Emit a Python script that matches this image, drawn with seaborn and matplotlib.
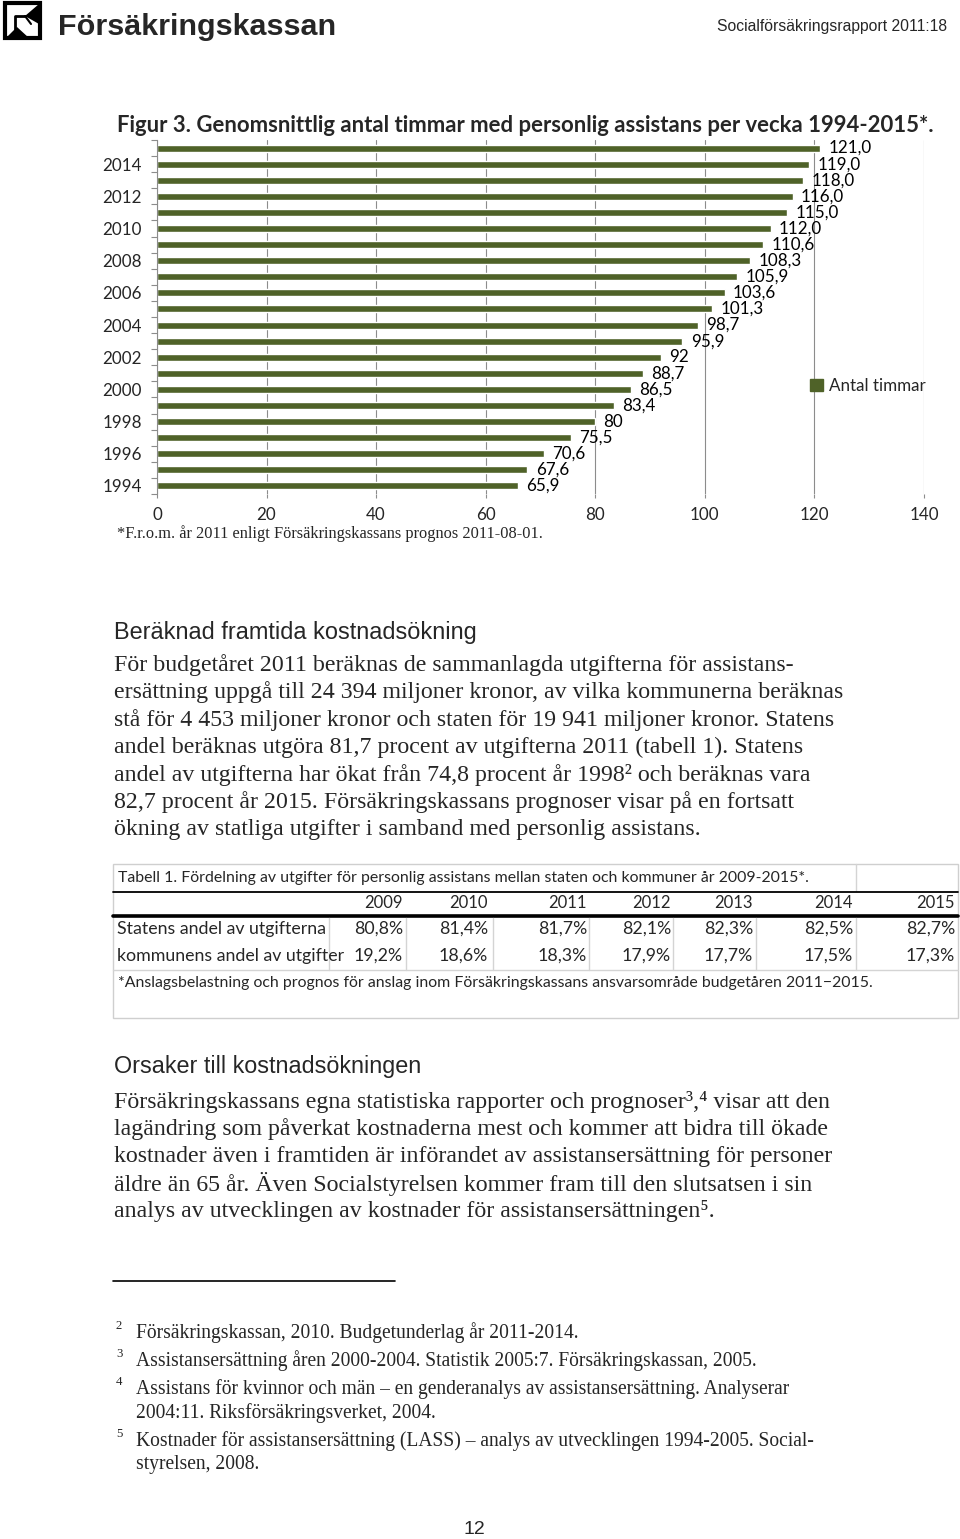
import matplotlib
matplotlib.use("Agg")
import matplotlib.pyplot as plt
import matplotlib.patches as mpatches
from matplotlib.lines import Line2D
import numpy as np
import pandas as pd
import seaborn as sns

# chart data
years = list(range(1994, 2016))
hours = [65.9, 67.6, 70.6, 75.5, 80, 83.4, 86.5, 88.7, 92, 95.9, 98.7,
         101.3, 103.6, 105.9, 108.3, 110.6, 112.0, 115.0, 116.0, 118.0, 119.0, 121.0]
hour_labels = ["65,9", "67,6", "70,6", "75,5", "80", "83,4", "86,5", "88,7", "92", "95,9", "98,7",
               "101,3", "103,6", "105,9", "108,3", "110,6", "112,0", "115,0", "116,0", "118,0", "119,0", "121,0"]
x_ticks = [0, 20, 40, 60, 80, 100, 120, 140]
series_name = "Antal timmar"

# table data
table_years = ["2009", "2010", "2011", "2012", "2013", "2014", "2015"]
statens_andel = ["80,8%", "81,4%", "81,7%", "82,1%", "82,3%", "82,5%", "82,7%"]
kommunens_andel = ["19,2%", "18,6%", "18,3%", "17,9%", "17,7%", "17,5%", "17,3%"]
row_names = ["Statens andel av utgifterna", "kommunens andel av utgifter"]

# page text
para1 = ["För budgetåret 2011 beräknas de sammanlagda utgifterna för assistans-",
         "ersättning uppgå till 24 394 miljoner kronor, av vilka kommunerna beräknas",
         "stå för 4 453 miljoner kronor och staten för 19 941 miljoner kronor. Statens",
         "andel beräknas utgöra 81,7 procent av utgifterna 2011 (tabell 1). Statens",
         "andel av utgifterna har ökat från 74,8 procent år 1998\u00b2 och beräknas vara",
         "82,7 procent år 2015. Försäkringskassans prognoser visar på en fortsatt",
         "ökning av statliga utgifter i samband med personlig assistans."]
para2 = ["Försäkringskassans egna statistiska rapporter och prognoser\u00b3,\u2074 visar att den",
         "lagändring som påverkat kostnaderna mest och kommer att bidra till ökade",
         "kostnader även i framtiden är införandet av assistansersättning för personer",
         "äldre än 65 år. Även Socialstyrelsen kommer fram till den slutsatsen i sin",
         "analys av utvecklingen av kostnader för assistansersättningen\u2075."]
footnotes = [("2", ["Försäkringskassan, 2010. Budgetunderlag år 2011-2014."]),
             ("3", ["Assistansersättning åren 2000-2004. Statistik 2005:7. Försäkringskassan, 2005."]),
             ("4", ["Assistans för kvinnor och män \u2013 en genderanalys av assistansersättning. Analyserar",
                    "2004:11. Riksförsäkringsverket, 2004."]),
             ("5", ["Kostnader för assistansersättning (LASS) \u2013 analys av utvecklingen 1994-2005. Social-",
                    "styrelsen, 2008."])]

W, H = 960, 1539
green = "#4f6228"
grid_gray = "#8c8c8c"
sans = ["Liberation Sans", "DejaVu Sans"]
serif = ["Liberation Serif", "DejaVu Serif"]
calib = ["Lato", "DejaVu Sans"]

sns.set_theme(style="white")
plt.rcParams["font.family"] = calib

fig = plt.figure(figsize=(W / 100, H / 100), dpi=100)
renderer = fig.canvas.get_renderer()


def fx(x):
    return x / W


def fy(y):
    return 1 - y / H


def fit(s, width, family, weight="normal"):
    t = fig.text(0, 0, s, fontsize=20, family=family, weight=weight)
    w = t.get_window_extent(renderer).width
    t.remove()
    return 20 * width / w


def put(x, y, s, size, family, weight="normal", ha="left", **kw):
    fig.text(fx(x), fy(y), s, fontsize=size, family=family, weight=weight,
             ha=ha, va="center", **kw)


def hline(x0, x1, y, color="black", lw=1.0):
    fig.add_artist(Line2D([fx(x0), fx(x1)], [fy(y), fy(y)], color=color, lw=lw,
                          transform=fig.transFigure))


def vline(x, y0, y1, color="black", lw=1.0):
    fig.add_artist(Line2D([fx(x), fx(x)], [fy(y0), fy(y1)], color=color, lw=lw,
                          transform=fig.transFigure))


# ---- header ----
fig.add_artist(mpatches.Rectangle((fx(5), fy(38)), fx(35), 35 / H, transform=fig.transFigure,
                                  facecolor="white", edgecolor="black", lw=3))
for poly in ([(25, 16), (39, 4), (39, 24)],
             [(6, 38), (17, 27), (29, 38)]):
    fig.add_artist(mpatches.Polygon([(fx(a), fy(b)) for a, b in poly], closed=True,
                                    transform=fig.transFigure, facecolor="black", lw=0))
fig.add_artist(Line2D([fx(15), fx(15), fx(25)], [fy(29), fy(16), fy(16)], color="black",
                      lw=2, transform=fig.transFigure))
fig.add_artist(Line2D([fx(25), fx(31)], [fy(16), fy(24)], color="black",
                      lw=1.5, transform=fig.transFigure))
put(58, 27, "Försäkringskassan", fit("Försäkringskassan", 277, sans, "bold"), sans, "bold")
put(717, 27, "Socialförsäkringsrapport 2011:18",
    fit("Socialförsäkringsrapport 2011:18", 229, sans), sans)

title = "Figur 3. Genomsnittlig antal timmar med personlig assistans per vecka 1994-2015*."
put(117, 125, title, fit(title, 816, calib, "bold"), calib, "bold")

# ---- chart ----
chart_fs = fit(series_name, 97, calib)
ax = fig.add_axes([fx(157), fy(494), (924 - 157) / W, 354 / H])
df = pd.DataFrame({"year": [str(y) for y in years], "hours": hours})
order = [str(y) for y in years[::-1]]
sns.barplot(data=df, x="hours", y="year", order=order, color=green, saturation=1,
            width=0.43, orient="h", ax=ax)
lab_map = dict(zip([str(y) for y in years], hour_labels))
ax.bar_label(ax.containers[0], labels=[lab_map[y] for y in order], padding=6,
             fontsize=chart_fs, color="black")
ax.set_xlim(0, 140)
ax.set_xticks(x_ticks)
ax.set_xticklabels([str(v) for v in x_ticks], fontsize=chart_fs)
ax.set_yticks(range(len(order)))
ax.set_yticklabels([y if int(y) % 2 == 0 else "" for y in order], fontsize=chart_fs)
ax.set_yticks(np.arange(-0.5, len(order), 1), minor=True)
ax.tick_params(axis="y", which="major", length=0, pad=11)
ax.tick_params(axis="y", which="minor", length=4, color=grid_gray, width=0.8, left=True)
ax.tick_params(axis="x", length=3, color=grid_gray, width=0.8, bottom=True, pad=6)
ax.grid(axis="x", color=grid_gray, lw=0.8)
ax.set_axisbelow(True)
ax.set_xlabel("")
ax.set_ylabel("")
for side in ["top", "right", "bottom"]:
    ax.spines[side].set_visible(False)
ax.spines["left"].set_color(grid_gray)
ax.spines["left"].set_linewidth(0.8)
ax.legend(handles=[mpatches.Patch(color=green, label=series_name)], frameon=False,
          loc="center left", bbox_to_anchor=((810 - 157) / 767, (494 - 386) / 354),
          borderaxespad=0, borderpad=0,
          fontsize=chart_fs, handlelength=0.75, handleheight=0.75, handletextpad=0.35)

note = "*F.r.o.m. år 2011 enligt Försäkringskassans prognos 2011-08-01."
put(117, 534, note, fit(note, 423, serif), serif)

# ---- body text 1 ----
put(114, 632, "Beräknad framtida kostnadsökning",
    fit("Beräknad framtida kostnadsökning", 361, sans), sans)
body_fs = fit(para1[0], 680, serif)
for i, line in enumerate(para1):
    put(114, 665 + i * 27.4, line, body_fs, serif)

# ---- table ----
fig.add_artist(mpatches.Rectangle((fx(113), fy(1018)), fx(958) - fx(113), 154 / H,
                                  transform=fig.transFigure, facecolor="white",
                                  edgecolor="#cfcfcf", lw=1))
tab_title = "Tabell 1. Fördelning av utgifter för personlig assistans mellan staten och kommuner år 2009-2015*."
tab_fs = fit(tab_title, 690, calib)
put(118, 878, tab_title, tab_fs, calib)
vline(856, 864, 891, color="#d4d4d4")
hline(113, 958, 892, lw=1.3)
col_right = [403, 488, 587, 671, 753, 853, 955]
col_div = [329, 406, 493, 589, 673, 756, 856]
for xr, yr in zip(col_right, table_years):
    put(xr, 903, yr, tab_fs * 1.05, calib, ha="right")
hline(113, 958, 916, lw=2.6)
for row_y, name, vals in zip([929, 956], row_names, [statens_andel, kommunens_andel]):
    put(117, row_y, name, tab_fs * 1.12, calib)
    for xr, v in zip(col_right, vals):
        put(xr, row_y, v, tab_fs * 1.12, calib, ha="right")
for xd in col_div:
    vline(xd, 918, 970, color="#d4d4d4")
hline(113, 958, 970, color="#d4d4d4")
tab_note = "*Anslagsbelastning och prognos för anslag inom Försäkringskassans ansvarsområde budgetåren 2011\u22122015."
put(118, 983, tab_note, fit(tab_note, 755, calib), calib)

# ---- body text 2 ----
put(114, 1066, "Orsaker till kostnadsökningen",
    fit("Orsaker till kostnadsökningen", 307, sans), sans)
for i, line in enumerate(para2):
    put(114, 1102 + i * 27.2, line, body_fs, serif)

# ---- footnotes ----
hline(113, 395, 1281, lw=1.2)
fn_fs = fit(footnotes[3][1][0], 678, serif)
y = 1333
for num, lines in footnotes:
    put(116, y - 7, num, fn_fs * 0.65, serif)
    for j, line in enumerate(lines):
        put(136, y + j * 24, line, fn_fs, serif)
    y += 24 * len(lines) + 4

put(474, 1529, "12", 14, sans, ha="center")

fig.savefig("out.png", dpi=100)
